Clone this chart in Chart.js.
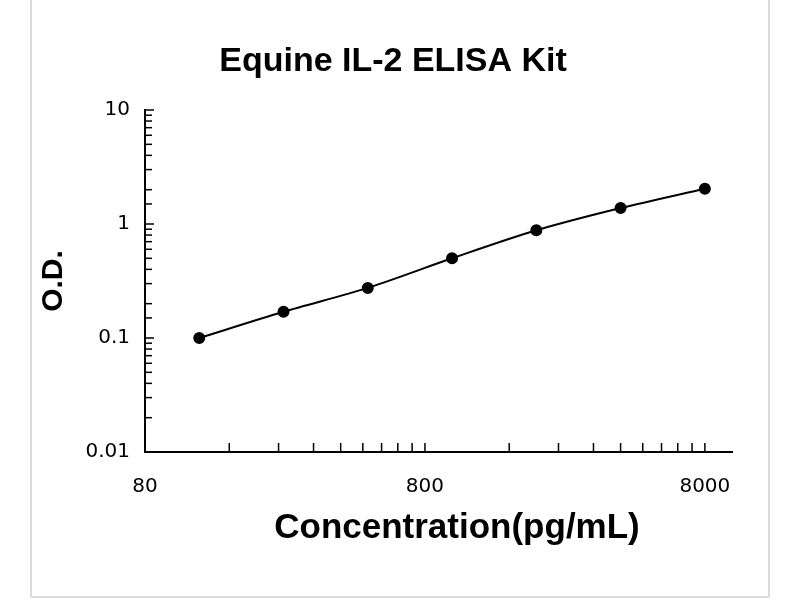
<!DOCTYPE html>
<html>
<head>
<meta charset="utf-8">
<script src="https://cdn.jsdelivr.net/npm/chart.js@4"></script>
<style>
  body { margin: 0; background: #fff; }
  #wrap { position: relative; width: 800px; height: 600px; }
  #frame { position: absolute; left: 30px; top: -2px; width: 740px; height: 600px; border: 2px solid #dcdcdc; box-sizing: border-box; }
</style>
</head>
<body>
<div id="wrap">
  <div id="frame"></div>
  <canvas id="chart-elisa" width="800" height="600"></canvas>
</div>
<script>
const concentrations = [125, 250, 500, 1000, 2000, 4000, 8000];
const odValues = [0.1, 0.17, 0.275, 0.5, 0.88, 1.38, 2.04];
const xTickLabels = [80, 800, 8000];
const xMinorTicks = [160, 240, 320, 400, 480, 560, 640, 720, 800,
                     1600, 2400, 3200, 4000, 4800, 5600, 6400, 7200, 8000];
const yTickLabels = [0.01, 0.1, 1, 10];
const chartTitle = 'Equine IL-2 ELISA Kit';
const xTitle = 'Concentration(pg/mL)';

const points = [];
for (let i = 0; i < concentrations.length; ++i) {
    points.push({ x: concentrations[i], y: odValues[i] });
}

// inner ticks plus the two titles, which sit a bit right of centre in the original
const decorations = {
    id: 'decorations',
    afterDraw(chart) {
        const ctx = chart.ctx;
        const xs = chart.scales.x, ys = chart.scales.y;
        ctx.save();
        ctx.strokeStyle = '#000';
        ctx.lineWidth = 1.5;
        ys.ticks.forEach(t => {
            const py = ys.getPixelForValue(t.value);
            const len = yTickLabels.includes(t.value) ? 9 : 7;
            ctx.beginPath();
            ctx.moveTo(xs.left, py);
            ctx.lineTo(xs.left + len, py);
            ctx.stroke();
        });
        xMinorTicks.forEach(v => {
            const px = xs.getPixelForValue(v);
            ctx.beginPath();
            ctx.moveTo(px, ys.bottom);
            ctx.lineTo(px, ys.bottom - 9);
            ctx.stroke();
        });

        ctx.fillStyle = '#000';
        ctx.textAlign = 'center';
        ctx.textBaseline = 'middle';
        ctx.font = 'bold 34px "Liberation Sans"';
        ctx.fillText(chartTitle, 393, 62);
        ctx.font = 'bold 35px "Liberation Sans"';
        ctx.fillText(xTitle, 457, 528);
        ctx.restore();
    }
};

new Chart(document.getElementById('chart-elisa').getContext('2d'), {
    type: 'line',
    data: {
        datasets: [{
            data: points,
            borderColor: '#000',
            backgroundColor: '#000',
            borderWidth: 2,
            pointRadius: 5,
            pointHoverRadius: 5,
            tension: 0.3
        }]
    },
    options: {
        responsive: false,
        animation: false,
        layout: { padding: { left: 30, right: 68, bottom: 40, top: 110 } },
        plugins: {
            legend: { display: false },
            tooltip: { enabled: false },
            title: { display: false }
        },
        scales: {
            x: {
                type: 'logarithmic',
                min: 80,
                max: 10000,
                afterFit: s => { s.height = 108; },
                border: { display: true, color: '#000', width: 2 },
                grid: { display: false, drawTicks: false },
                ticks: {
                    autoSkip: false,
                    maxRotation: 0,
                    padding: 23,
                    color: '#000',
                    font: { family: 'DejaVu Sans', size: 20 },
                    callback: v => xTickLabels.includes(v) ? String(v) : ''
                },
                title: { display: false }
            },
            y: {
                type: 'logarithmic',
                min: 0.01,
                max: 10,
                afterFit: s => { s.width = 115; },
                border: { display: true, color: '#000', width: 2 },
                grid: { display: false, drawTicks: false },
                ticks: {
                    autoSkip: false,
                    padding: 15,
                    color: '#000',
                    font: { family: 'DejaVu Sans', size: 20 },
                    callback: v => yTickLabels.includes(v) ? String(v) : ''
                },
                title: {
                    display: true,
                    text: 'O.D.',
                    color: '#000',
                    font: { family: 'Liberation Sans', size: 30, weight: 'bold' },
                    padding: { top: 6, bottom: 0 }
                }
            }
        }
    },
    plugins: [decorations]
});
</script>
</body>
</html>
